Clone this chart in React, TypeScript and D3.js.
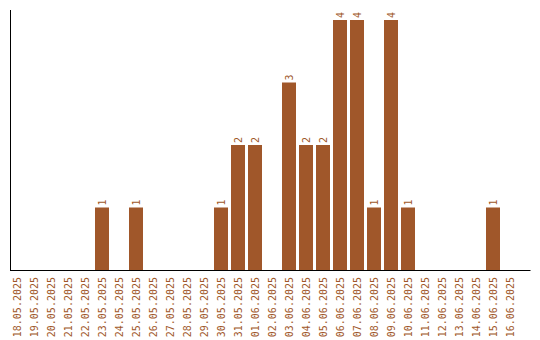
import React from "react";
import * as d3 from "d3";

const categories = [
  "18.05.2025","19.05.2025","20.05.2025","21.05.2025","22.05.2025","23.05.2025","24.05.2025","25.05.2025","26.05.2025","27.05.2025",
  "28.05.2025","29.05.2025","30.05.2025","31.05.2025","01.06.2025","02.06.2025","03.06.2025","04.06.2025","05.06.2025","06.06.2025",
  "07.06.2025","08.06.2025","09.06.2025","10.06.2025","11.06.2025","12.06.2025","13.06.2025","14.06.2025","15.06.2025","16.06.2025",
];
const values = [0,0,0,0,0,1,0,1,0,0, 0,0,1,2,2,0,3,2,2,4, 4,1,4,1,0,0,0,0,1,0];

const W = 540, H = 340;
const COLOR = "#a0572a";
const FONT = "'DejaVu Sans Mono', monospace";

export default function App() {
  const x = d3.scaleBand<string>().domain(categories).range([8.5, 518.5]).paddingInner(3 / 17).paddingOuter(3 / 34);
  const y = d3.scaleLinear().domain([0, 4]).range([270, 20]);
  const bw = x.bandwidth();
  return (
    <svg width={W} height={H} style={{ position: "absolute", left: 0, top: 0 }} fontFamily={FONT}>
      <rect width={W} height={H} fill="#fff" />
      {categories.map((c, i) => {
        const v = values[i];
        const cx = (x(c) as number) + bw / 2;
        return (
          <g key={c}>
            {v > 0 && (
              <rect x={x(c)} y={y(v)} width={bw} height={y(0) - y(v)} fill={COLOR} />
            )}
            {v > 0 && (
              <text transform={`translate(${cx},${y(v) - 2}) rotate(-90)`} dy="0.35em" fontSize={10} fill={COLOR} textAnchor="start">
                {v}
              </text>
            )}
            <text transform={`translate(${cx},277) rotate(-90)`} dy="0.35em" fontSize={10} fill={COLOR} textAnchor="end">
              {c}
            </text>
          </g>
        );
      })}
      <line x1={10.5} x2={10.5} y1={10} y2={270.5} stroke="#000" strokeWidth={1} />
      <line x1={10} x2={530.5} y1={270.5} y2={270.5} stroke="#000" strokeWidth={1} />
    </svg>
  );
}
